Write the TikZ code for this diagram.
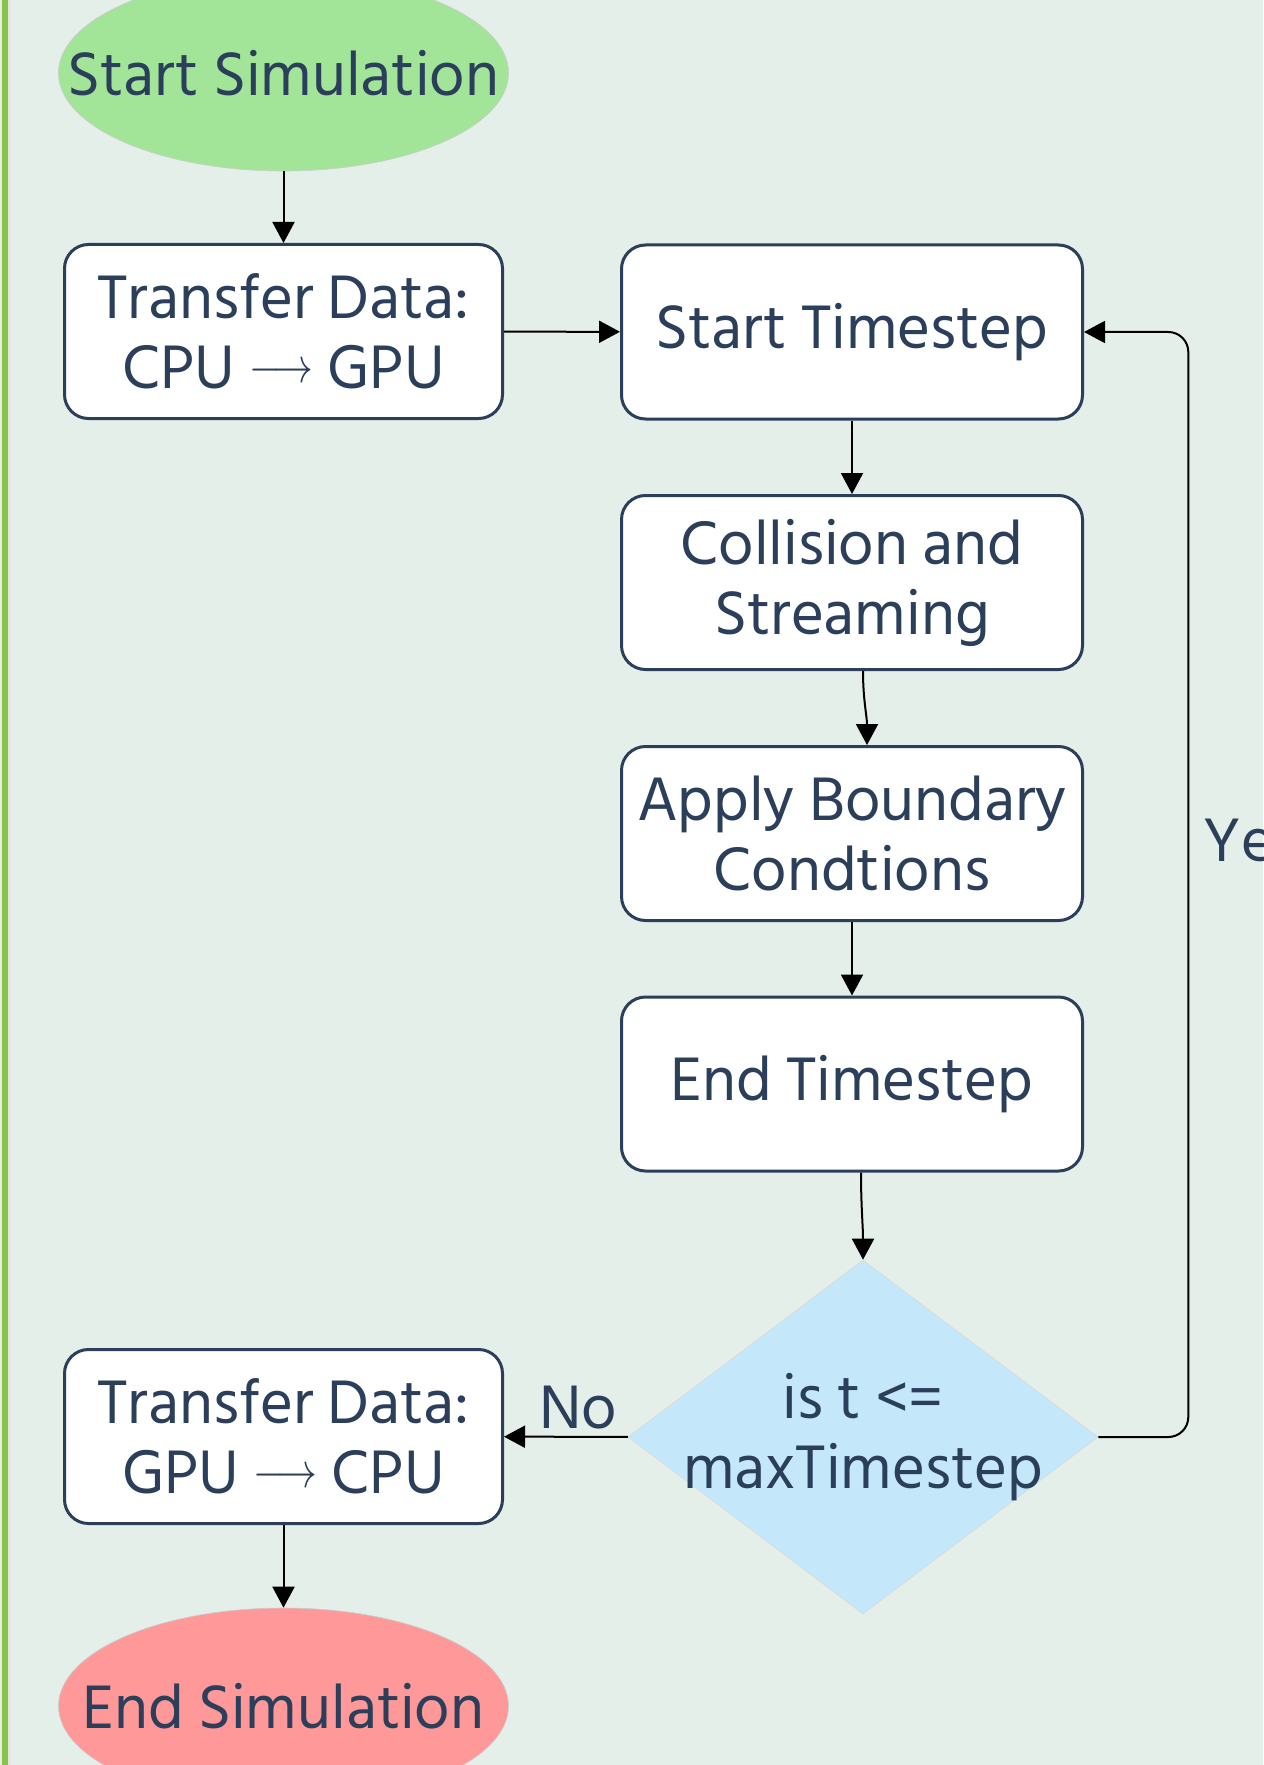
\documentclass[tikz,border=0pt]{standalone}
\usepackage{fontspec,graphicx}
\setmainfont{Hind Siliguri}
\usetikzlibrary{arrows.meta,positioning,shapes.geometric}
\definecolor{bgc}{RGB}{228,239,233}
\definecolor{barc}{RGB}{139,195,74}
\definecolor{ink}{RGB}{43,62,90}
\definecolor{sc}{RGB}{163,229,152}
\definecolor{ec}{RGB}{255,153,153}
\definecolor{dc}{RGB}{196,232,250}
\newcommand\tofrom{\raisebox{3pt}{\scalebox{.8}[1]{$\longrightarrow$}}}
\tikzset{stepbox/.style={draw=ink,fill=white,line width=1.5pt,rounded corners=12pt,minimum width=219pt,minimum height=87pt},
 wide/.style={stepbox,minimum width=230.5pt},
 term/.style={ellipse,draw=black!20,line width=.3pt,minimum width=225pt,minimum height=98pt,inner sep=0pt},
 choice/.style={diamond,fill=dc,draw=black!15,line width=.3pt,minimum width=235pt,minimum height=177pt,inner sep=0pt},
 arr/.style={-{Triangle[length=10.5pt,width=11pt]},line width=1pt},
 every node/.style={font=\fontsize{31.5}{35}\selectfont,text=ink,align=center}}
\begin{document}
\begin{tikzpicture}[x=.5pt,y=-.5pt]
\useasboundingbox (0,0) rectangle (1263,1765);
\fill[bgc] (0,0) rectangle (1263,1765);
\fill[black!10] (7,0) rectangle (11,1765);
\fill[barc] (2,0) rectangle (8,1765);
% left column
\node[term,fill=sc,label=center:Start Simulation] (start) at (283.5,73) {};
\node[stepbox] (cg) at (283.5,331.5) {Transfer Data:\\CPU \tofrom{} GPU};
\node[stepbox] (gc) at (283.5,1436.5) {Transfer Data:\\GPU \tofrom{} CPU};
\node[term,fill=ec,label=center:End Simulation] (end) at (283.5,1706) {};
% timestep loop
\foreach \n/\y/\t in {ts/332/Start Timestep,cs/582.5/{Collision and\\Streaming},
 bc/833.5/{Apply Boundary\\Condtions},te/1084/End Timestep}
 \node[wide] (\n) at (852,\y) {\t};
\node[choice] (chk) at (863,1437) {};
\node (chktxt) at (chk) {is t <=\\maxTimestep};
\draw[arr] (start) -- (cg);
\draw[arr] (cg) -- (ts);
\draw[arr] (ts) -- (cs);
\draw[arr] ([xshift=5.5pt]cs.south) to[out=-90,in=90] ([xshift=7.5pt]bc.north);
\draw[arr] (bc) -- (te);
\draw[arr] ([xshift=4.5pt]te.south) to[out=-90,in=90] (chk.north);
\draw[arr] (chk) -- node[pos=.4,above]{No} (gc);
\draw[arr,rounded corners=10pt] (chk.east) -- ++(90,0) |- node[pos=.27,right,xshift=4pt]{Yes} (ts.east);
\draw[arr] (gc) -- (end);
\end{tikzpicture}
\end{document}
